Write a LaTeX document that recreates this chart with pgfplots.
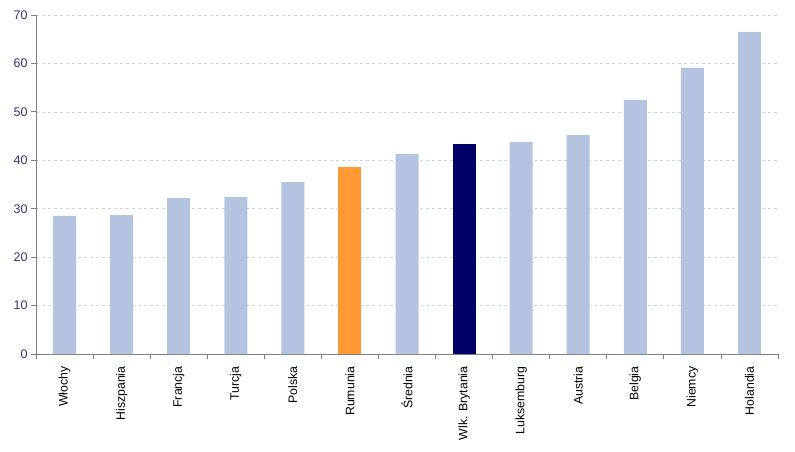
\documentclass[border=0pt]{standalone}
\usepackage{pgfplots}
\pgfplotsset{compat=1.18}
\usepackage{fontspec}
\setmainfont{Liberation Sans}
\definecolor{barblue}{HTML}{B3C3E0}
\definecolor{barorange}{HTML}{FF9933}
\definecolor{barnavy}{HTML}{000066}
\definecolor{ticklab}{HTML}{3A3070}
\begin{document}
\begin{tikzpicture}
\useasboundingbox (-36pt,-97pt) rectangle (759pt,354pt);
\begin{axis}[
  at={(0pt,0pt)}, anchor=south west,
  scale only axis, width=742pt, height=339pt,
  ybar, bar width=23pt, bar shift=0pt,
  xmin=-0.5, xmax=12.5, ymin=0, ymax=70,
  ytick={0,10,...,70},
  xtick={0,...,12},
  xticklabels={Włochy,Hiszpania,Francja,Turcja,Polska,Rumunia,Średnia,Wlk. Brytania,Luksemburg,Austria,Belgia,Niemcy,Holandia},
  minor xtick={-0.5,0.5,...,12.5},
  major x tick style={draw=none},
  tick align=outside,
  major tick length=5pt, minor tick length=5pt,
  tick style={gray, line width=0.8pt},
  axis x line*=bottom, axis y line*=left,
  axis line style={gray, line width=0.8pt, -},
  ymajorgrids, grid style={gray!35, dashed, line width=0.5pt},
  x tick label style={rotate=90, anchor=east, font=\fontsize{12.3}{14}\selectfont, black, xshift=-4pt},
  y tick label style={font=\fontsize{12.5}{14}\selectfont, text=ticklab},
  /pgf/number format/assume math mode=true,
]
\addplot[fill=barblue, draw=none] coordinates {(0,28.5) (1,28.7) (2,32.2) (3,32.4) (4,35.5) (6,41.3) (8,43.8) (9,45.2) (10,52.4) (11,59.1) (12,66.5)};
\addplot[fill=barorange, draw=none] coordinates {(5,38.6)};
\addplot[fill=barnavy, draw=none] coordinates {(7,43.4)};
\end{axis}
\end{tikzpicture}
\end{document}
